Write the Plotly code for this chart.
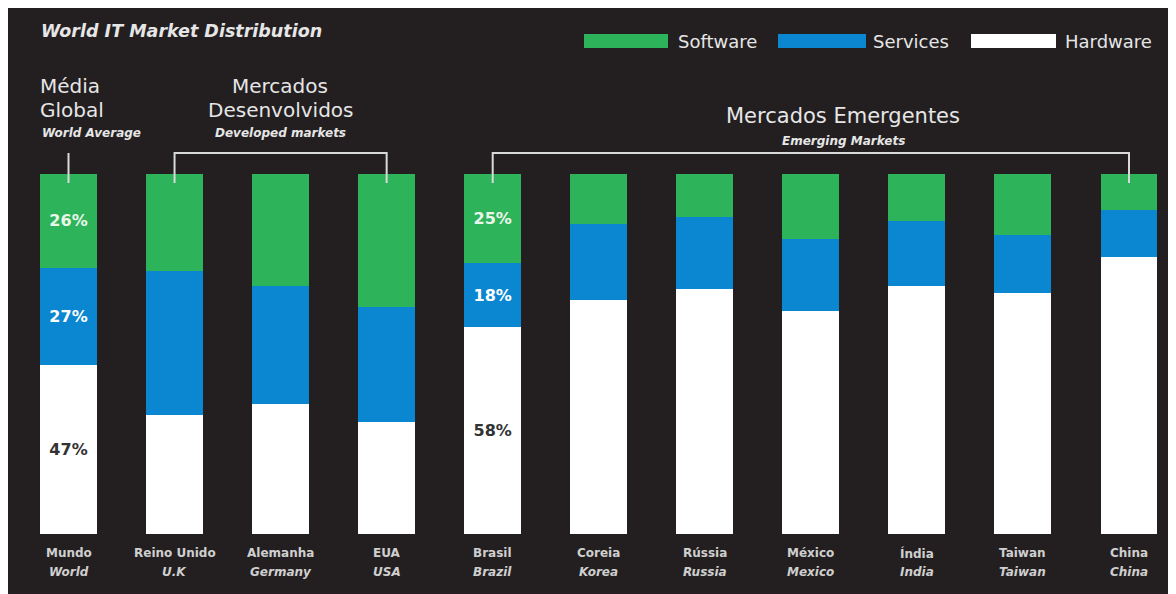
import plotly.graph_objects as go

# ---------------- data ----------------
categories_pt = ["Mundo", "Reino Unido", "Alemanha", "EUA", "Brasil", "Coreia",
                 "Rússia", "México", "Índia", "Taiwan", "China"]
categories_en = ["World", "U.K", "Germany", "USA", "Brazil", "Korea",
                 "Russia", "Mexico", "India", "Taiwan", "China"]
software = [26, 27, 31, 37, 25, 14, 12, 18, 13, 17, 10]
services = [27, 40, 33, 32, 18, 21, 20, 20, 18, 16, 13]
hardware = [47, 33, 36, 31, 58, 65, 68, 62, 69, 67, 77]
labeled = ["Mundo", "Brasil"]

# ---------------- style ----------------
W, H = 1176, 594
OFF = 8  # page body margin: figure starts 8 px right / down of the page corner
DARK = "#231f20"
GREEN = "#2db45a"
BLUE = "#0b86d0"
WHITE = "#ffffff"
TXT = "#e6e6e6"
FONT = "DejaVu Sans, Liberation Sans, Arial, sans-serif"

def px(x):
    return (x - OFF) / W

def py(y):
    return 1 - (y - OFF) / H

xs = list(range(len(categories_pt)))
BAR_W = 0.537

def labels(vals):
    return [f"<b>{v}%</b>" if c in labeled else "" for c, v in zip(categories_pt, vals)]

fig = go.Figure()
series = [
    ("Hardware", hardware, WHITE, "#333333"),
    ("Services", services, BLUE, "#ffffff"),
    ("Software", software, GREEN, "#eaf6ea"),
]
for name, vals, col, tcol in series:
    fig.add_trace(go.Bar(
        x=xs, y=vals, name=name, width=BAR_W,
        marker=dict(color=col, line=dict(width=0)),
        text=labels(vals), textposition="inside", insidetextanchor="middle",
        textangle=0, constraintext="none",
        textfont=dict(family=FONT, size=16, color=tcol),
        hoverinfo="skip", showlegend=False,
    ))

ann = []

def add_text(x, y, s, size, color=TXT, xanchor="left", xref="paper"):
    ann.append(dict(x=x, y=py(y), xref=xref, yref="paper", text=s, showarrow=False,
                    xanchor=xanchor, yanchor="middle",
                    font=dict(family=FONT, size=size, color=color)))

# title
add_text(px(39), 31, "<b><i>World IT Market Distribution</i></b>", 17.5)

# legend
legend_items = [("Software", GREEN, 584, 668, 676),
                ("Services", BLUE, 778, 866, 871),
                ("Hardware", WHITE, 971, 1056, 1063)]
shapes = []
for name, col, x0, x1, tx in legend_items:
    shapes.append(dict(type="rect", xref="paper", yref="paper",
                       x0=px(x0), x1=px(x1), y0=py(48), y1=py(34),
                       fillcolor=col, line=dict(width=0), layer="above"))
    add_text(px(tx), 41, name, 18)

# group headers
add_text(px(38), 86, "Média", 20)
add_text(px(38), 110, "Global", 20)
add_text(px(40), 133, "<b><i>World Average</i></b>", 12)
add_text(px(280), 86, "Mercados", 20, xanchor="center")
add_text(px(280), 110, "Desenvolvidos", 20, xanchor="center")
add_text(px(280), 133, "<b><i>Developed markets</i></b>", 12, xanchor="center")
add_text(px(843), 116, "Mercados Emergentes", 21, xanchor="center")
add_text(px(843), 141, "<b><i>Emerging Markets</i></b>", 12, xanchor="center")

# category labels
for i, (pt, en) in enumerate(zip(categories_pt, categories_en)):
    add_text(i, 553, f"<b>{pt}</b>", 12, color="#cfcfcf", xanchor="center", xref="x")
    add_text(i, 572, f"<b><i>{en}</i></b>", 12, color="#cfcfcf", xanchor="center", xref="x")

# brackets
LC = "#d9d9d9"
def seg(x0, y0, x1, y1):
    shapes.append(dict(type="line", xref="x", yref="paper", x0=x0, x1=x1,
                       y0=py(y0), y1=py(y1), line=dict(color=LC, width=2), layer="above"))

seg(0, 153, 0, 183)
seg(1, 153, 3, 153); seg(1, 152, 1, 183); seg(3, 152, 3, 183)
seg(4, 153, 10, 153); seg(4, 152, 4, 183); seg(10, 152, 10, 183)

# axis ranges: centre of bar 0 at 68.5 px, spacing 106.05 px; 0% at 534 px, 100% at 174 px (page px)
SP = 106.05
X0 = 68.5 - OFF
YB, YT = 534 - OFF, 174 - OFF
ppu = (YB - YT) / 100
fig.update_layout(
    width=W, height=H,
    margin=dict(l=0, r=0, t=0, b=0),
    paper_bgcolor=DARK, plot_bgcolor=DARK,
    barmode="stack", barnorm="percent",
    xaxis=dict(visible=False, range=[-X0 / SP, (W - X0) / SP], fixedrange=True),
    yaxis=dict(visible=False, range=[-(H - YB) / ppu, YB / ppu], fixedrange=True),
    annotations=ann, shapes=shapes, showlegend=False,
)

fig.write_html("out.html")
